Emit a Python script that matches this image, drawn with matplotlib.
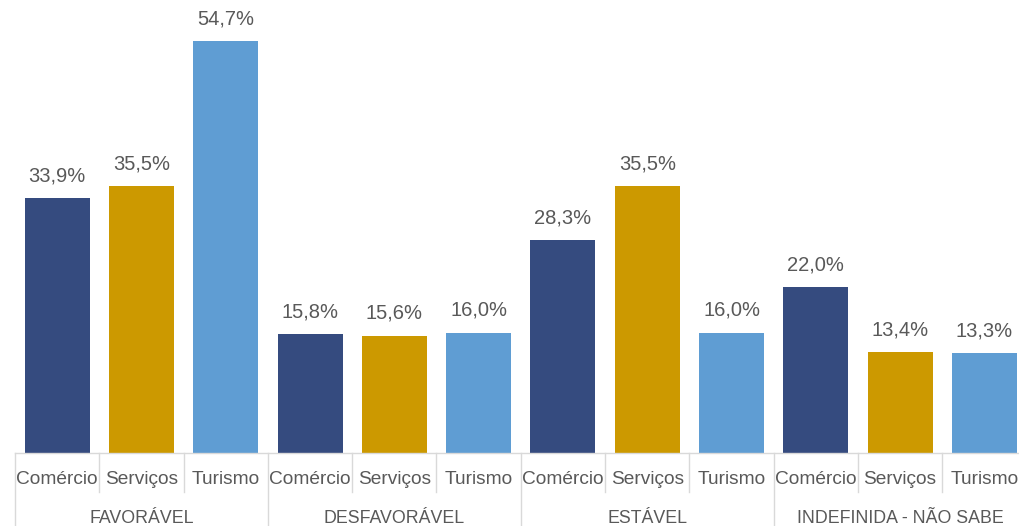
import matplotlib.pyplot as plt
import matplotlib.transforms as mtransforms

plt.rcParams['font.family'] = ['Liberation Sans', 'DejaVu Sans']

# Data
groups = ['FAVORÁVEL', 'DESFAVORÁVEL', 'ESTÁVEL', 'INDEFINIDA - NÃO SABE']
sectors = ['Comércio', 'Serviços', 'Turismo']
comercio = [33.9, 15.8, 28.3, 22.0]
servicos = [35.5, 15.6, 35.5, 13.4]
turismo = [54.7, 16.0, 16.0, 13.3]

colors = ['#354B7F', '#CC9900', '#5F9DD3']
text_color = '#595959'
line_color = '#D9D9D9'

fig = plt.figure(figsize=(10.2, 5.26), dpi=100)
ax = fig.add_axes([15 / 1020, 73 / 526, 1011.6 / 1020, 453 / 526])

series = [comercio, servicos, turismo]
n = len(sectors)
for g in range(len(groups)):
    for s in range(n):
        x = g * n + s + 0.5
        val = series[s][g]
        ax.bar(x, val, width=0.77, color=colors[s])
        ax.annotate(f'{val:.1f}%'.replace('.', ','), xy=(x, val),
                    xytext=(0, 12), textcoords='offset points',
                    ha='center', va='baseline', fontsize=14.5, color=text_color)

ax.set_xlim(0, len(groups) * n)
ax.set_ylim(0, 60.16)
ax.axis('off')

# baseline and category separators below the axis
trans = mtransforms.blended_transform_factory(ax.transData, ax.transAxes)
ax.plot([0, len(groups) * n], [0, 0], color=line_color, lw=1, transform=trans, clip_on=False)
for i in range(len(groups) * n + 1):
    y_end = -0.165 if i % n == 0 else -0.086
    ax.plot([i, i], [0, y_end], color=line_color, lw=1, transform=trans, clip_on=False)

for g, name in enumerate(groups):
    for s, sec in enumerate(sectors):
        ax.text(g * n + s + 0.5, -0.059, sec, transform=trans, ha='center', va='center',
                fontsize=13.8, color=text_color)
    ax.text(g * n + n / 2, -0.145, name, transform=trans, ha='center', va='center',
            fontsize=12.8, color=text_color)

fig.savefig('out.png', dpi=100)
